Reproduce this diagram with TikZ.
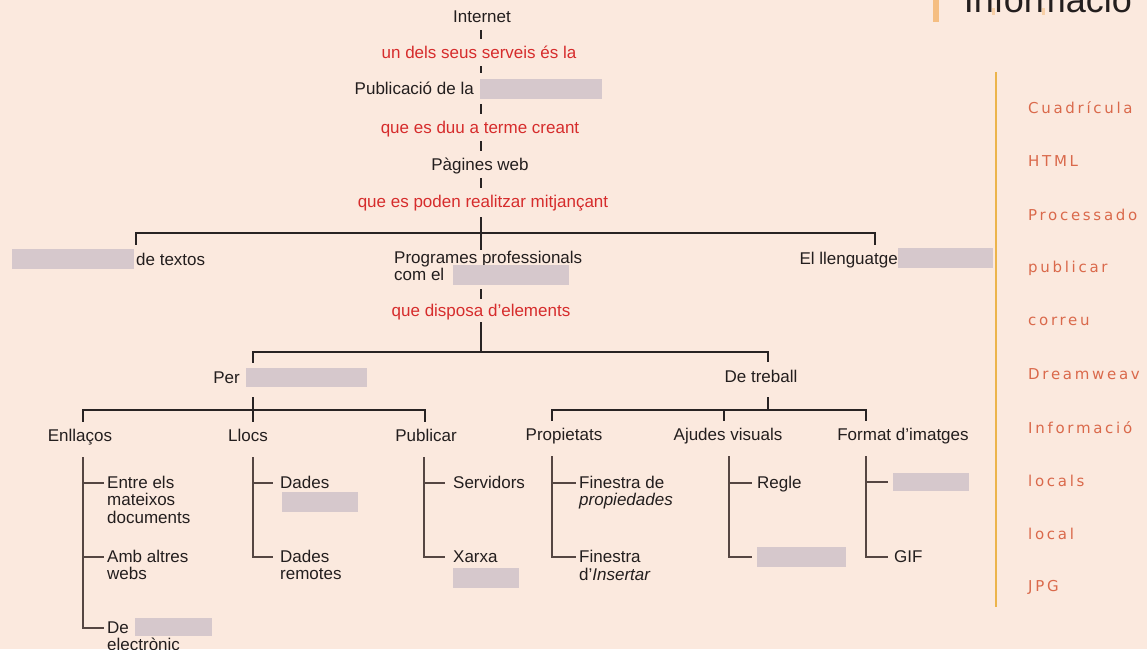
\documentclass[tikz,border=0pt]{standalone}
\usepackage{fontspec}
\setmainfont{Liberation Sans}
\newfontfamily\sidefont[LetterSpace=18]{DejaVu Sans}
\definecolor{bg}{RGB}{251,233,222}
\definecolor{ink}{RGB}{35,30,30}
\definecolor{redt}{RGB}{214,44,44}
\definecolor{gbox}{RGB}{214,200,204}
\definecolor{linec}{RGB}{40,35,35}
\definecolor{subc}{RGB}{85,70,66}
\definecolor{sidec}{RGB}{218,105,75}
\definecolor{orl}{RGB}{236,180,75}
\definecolor{accent}{RGB}{245,190,130}
\begin{document}
\begin{tikzpicture}[x=1pt,y=-1pt,
  t/.style={font=\fontsize{17}{17}\selectfont, text=ink, inner sep=0pt, text height=13pt, text depth=3pt},
  rt/.style={t, text=redt},
  gb/.style={fill=gbox, draw=none, inner sep=0pt, anchor=north west},
  side/.style={font=\sidefont\fontsize{15}{15}\selectfont, text=sidec, inner sep=0pt, anchor=west},
  conn/.style={draw=linec, line width=1.3pt},
  tick/.style={conn, shorten <=5pt, shorten >=6pt},
  sub/.style={draw=subc, line width=1.7pt}]
\useasboundingbox (0,0) rectangle (1147,649);
\fill[bg] (0,0) rectangle (1147,649);

% title (cut at top)
\fill[accent] (933,0) rectangle (939,22);
\fill[accent, opacity=0.6] (992,8) rectangle (995,15);
\fill[accent, opacity=0.6] (1042,8) rectangle (1045,15);
\node[font=\fontsize{36}{36}\selectfont, text=ink, inner sep=0pt, anchor=base east] (title) at (1132,12) {Informació};

% right column
\draw[orl, line width=1.8pt] (996,72) -- (996,607);
\node[side] (s1) at (1028,108) {Cuadrícula};
\node[side] (s2) at (1028,161) {HTML};
\node[side] (s3) at (1028,215) {Processado};
\node[side] (s4) at (1028,268) {publicar};
\node[side] (s5) at (1028,321) {correu};
\node[side] (s6) at (1028,374) {Dreamweav};
\node[side] (s7) at (1028,428) {Informació};
\node[side] (s8) at (1028,481) {locals};
\node[side] (s9) at (1028,534) {local};
\node[side] (s10) at (1028,587) {JPG};

% main column
\coordinate (ax) at (481,0);
\node[t] (internet) at (482,17) {Internet};
\node[rt] (r1) at (479,53) {un dels seus serveis és la};
\node[t, anchor=east] (pub) at (474,89) {Publicació de la};
\node[gb, minimum width=122pt, minimum height=20pt] (pubbox) at (480,79) {};
\node[rt] (r2) at (480,128) {que es duu a terme creant};
\node[t] (pag) at (480,165) {Pàgines web};
\node[rt] (r3) at (483,202) {que es poden realitzar mitjançant};

\draw[tick] (internet.south -| ax) -- (r1.north -| ax);
\draw[tick] (r1.south -| ax) -- (pubbox.north -| ax);
\draw[tick] (pubbox.south -| ax) -- (r2.north -| ax);
\draw[tick] (r2.south -| ax) -- (pag.north -| ax);
\draw[tick] (pag.south -| ax) -- (r3.north -| ax);

% level 1
\node[gb, minimum width=122pt, minimum height=20pt] (procbox) at (12,249) {};
\node[t, anchor=west] (dtext) at (136,260) {de textos};
\node[t, anchor=west] (prog1) at (394,258) {Programes professionals};
\node[t, anchor=west] (prog2) at (394,275) {com el};
\node[gb, minimum width=116pt, minimum height=20pt] (progbox) at (453,265) {};
\node[t, anchor=east] (lang) at (898,259) {El llenguatge};
\node[gb, minimum width=95pt, minimum height=20pt] (langbox) at (898,248) {};
\coordinate (b1) at (481,233);
\coordinate (langtick) at (875,245);

\draw[conn, shorten <=7pt] (r3.south -| ax) -- (prog1.north -| ax);
\draw[conn] ([yshift=7pt]dtext.north west) |- (b1) -| (langtick);

% level 2
\node[rt] (r4) at (481,311) {que disposa d’elements};
\draw[conn, shorten <=6pt, shorten >=4pt] (prog2.south -| ax) -- (r4.north -| ax);
\coordinate (b2) at (481,352);
\coordinate (perax) at (253,0);
\coordinate (trax) at (768,0);
\node[t, anchor=east] (per) at (240,378) {Per};
\node[gb, minimum width=121pt, minimum height=19pt] (perbox) at (246,368) {};
\node[t] (treball) at (761,377) {De treball};
\draw[conn, shorten <=3pt] (r4.south -| ax) -- (b2);
\draw[conn] ([yshift=7pt]per.north -| perax) |- (b2) -| ([yshift=7pt]treball.north -| trax);

% level 3
\node[t] (enll) at (80,436) {Enllaços};
\node[t] (llocs) at (248,436) {Llocs};
\node[t] (publ) at (426,436) {Publicar};
\node[t] (prop) at (564,435) {Propietats};
\node[t] (ajud) at (728,435) {Ajudes visuals};
\node[t] (fmt) at (903,435) {Format d’imatges};
\coordinate (enax) at (83,0);
\coordinate (puax) at (425,0);
\coordinate (prax) at (552,0);
\coordinate (ajax) at (724,0);
\coordinate (fmax) at (866,0);
\coordinate (b3) at (253,410);
\coordinate (b4) at (768,410);

\draw[conn, shorten <=10pt, shorten >=6pt] (perbox.south -| perax) -- (llocs.north -| perax);
\draw[conn] ([yshift=6pt]enll.north -| enax) |- (b3) -| ([yshift=6pt]publ.north -| puax);
\draw[conn, shorten <=12pt] (treball.south -| trax) -- (b4);
\draw[conn] ([yshift=6pt]prop.north -| prax) |- (b4) -| ([yshift=6pt]fmt.north -| fmax);
\draw[conn, shorten >=6pt] (b4 -| ajax) -- (ajud.north -| ajax);

% Enllaços items
\node[t, anchor=west] (en1a) at (107,483) {Entre els};
\node[t, anchor=west] (en1b) at (107,500.5) {mateixos};
\node[t, anchor=west] (en1c) at (107,518) {documents};
\node[t, anchor=west] (en2a) at (107,557) {Amb altres};
\node[t, anchor=west] (en2b) at (107,574.5) {webs};
\node[t, anchor=west] (en3a) at (107,628) {De};
\node[gb, minimum width=77pt, minimum height=18pt] (en3box) at (135,618) {};
\node[t, anchor=west] (en3b) at (107,645) {electrònic};
\draw[sub, shorten <=13pt, shorten >=3pt] (enll.south -| enax) |- (en3a.west);
\draw[sub, shorten >=3pt] (en1a.west -| enax) -- (en1a.west);
\draw[sub, shorten >=3pt] (en2a.west -| enax) -- (en2a.west);

% Llocs items
\coordinate (llax) at (253,0);
\node[t, anchor=west] (ll1a) at (280,483) {Dades};
\node[gb, minimum width=76pt, minimum height=20pt] (ll1box) at (282,492) {};
\node[t, anchor=west] (ll2a) at (280,557) {Dades};
\node[t, anchor=west] (ll2b) at (280,574.5) {remotes};
\draw[sub, shorten <=13pt, shorten >=7pt] (llocs.south -| llax) |- (ll2a.west);
\draw[sub, shorten >=7pt] (ll1a.west -| llax) -- (ll1a.west);

% Publicar items
\coordinate (pbax) at (424,0);
\node[t, anchor=west] (pu1) at (453,483) {Servidors};
\node[t, anchor=west] (pu2) at (453,557) {Xarxa};
\node[gb, minimum width=66pt, minimum height=20pt] (pu2box) at (453,568) {};
\draw[sub, shorten <=13pt, shorten >=8pt] (publ.south -| pbax) |- (pu2.west);
\draw[sub, shorten >=8pt] (pu1.west -| pbax) -- (pu1.west);

% Propietats items
\node[t, anchor=west] (pr1a) at (579,483) {Finestra de};
\node[t, anchor=west] (pr1b) at (579,500.5) {\itshape propiedades};
\node[t, anchor=west] (pr2a) at (579,557) {Finestra};
\node[t, anchor=west] (pr2b) at (579,575) {d’\textit{Insertar}};
\draw[sub, shorten <=13pt, shorten >=3pt] (prop.south -| prax) |- (pr2a.west);
\draw[sub, shorten >=3pt] (pr1a.west -| prax) -- (pr1a.west);

% Ajudes visuals items
\coordinate (avax) at (729,0);
\node[t, anchor=west] (av1) at (757,483) {Regle};
\node[gb, minimum width=89pt, minimum height=20pt] (av2box) at (757,547) {};
\draw[sub, shorten <=13pt, shorten >=5pt] (ajud.south -| avax) |- (av2box.west);
\draw[sub, shorten >=5pt] (av1.west -| avax) -- (av1.west);

% Format d'imatges items
\node[gb, minimum width=76pt, minimum height=18pt] (fm1box) at (893,473) {};
\node[t, anchor=west] (fm2) at (894,557) {GIF};
\draw[sub, shorten <=13pt, shorten >=6pt] (fmt.south -| fmax) |- (fm2.west);
\draw[sub, shorten >=5pt] (fm1box.west -| fmax) -- (fm1box.west);
\end{tikzpicture}
\end{document}
